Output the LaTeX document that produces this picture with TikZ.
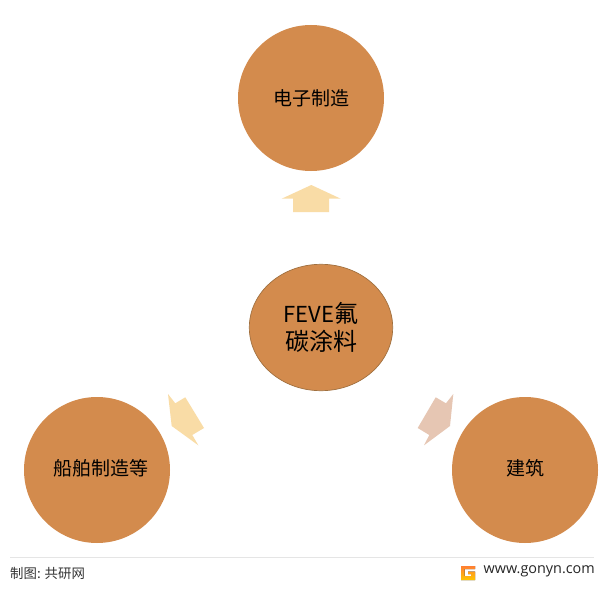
\documentclass[tikz,border=0pt]{standalone}
\usepackage{fontspec}
\setmainfont{Noto Sans CJK SC}
\newfontfamily\latinfont{Open Sans}
\definecolor{blob}{HTML}{D38B4D}
\definecolor{blobedge}{HTML}{A0703F}
\definecolor{arrowa}{HTML}{F9DCA6}
\definecolor{arrowb}{HTML}{E6C6B3}
\tikzset{
  x=1pt,y=-1pt,
  hub/.style={circle,fill=blob,minimum size=146pt,inner sep=0pt},
  hublabel/.style={inner sep=0pt,text=black,font=\fontsize{19}{22}\selectfont},
  flow/.style={draw=none},
}
\begin{document}
\begin{tikzpicture}
\useasboundingbox (0,0) rectangle (613,591);
\fill[white] (0,0) rectangle (613,591);
\node[hub] (top) at (311,98) {};
\node[hub] (left) at (97,470) {};
\node[hub] (right) at (525,470) {};
\node[hublabel] (toplabel) at (311,98.5) {电子制造};
\node[hublabel] (leftlabel) at (100.5,468.5) {船舶制造等};
\node[hublabel] (rightlabel) at (525,468.5) {建筑};
\draw[fill=blob,draw=blobedge,line width=0.7pt] (321,327.5) ellipse [x radius=71.7,y radius=63.2];
\node[align=center,inner sep=0pt,font=\fontsize{24}{28}\selectfont,text=black] (core) at (321,327) {{\fontsize{22}{28}\selectfont FEVE}氟\\碳涂料};
\fill[flow,arrowa] (311.3,185) -- (340.7,198.7) -- (329,198.7) -- (329,212) -- (293,212) -- (293,198.7) -- (281.7,198.7) -- cycle;
\fill[flow,arrowa] (168,394) -- (175.3,403.3) -- (185.3,397.3) -- (204,428) -- (192.3,435) -- (198.3,445.3) -- (171.7,426) -- cycle;
\fill[flow,arrowb] (453.3,394) -- (446,403.3) -- (435.7,397.3) -- (417.7,428) -- (429.3,435) -- (424,445.3) -- (450,426) -- cycle;
\draw[black!10,line width=0.8pt] (10,557) -- (594,557);
\node[anchor=west,inner sep=0pt,font=\fontsize{13.4}{15}\selectfont,text=black!80] (src) at (10,573) {制图: 共研网};
\node[anchor=east,inner sep=0pt,font=\latinfont\fontsize{14.4}{16}\selectfont,text=black!85] (web) at (595,571.5) {www.gonyn.com};
\fill[top color=orange!75!red!80,bottom color=orange!45!yellow] (461,566) -- (475,566) -- (475,569) -- (464.5,569) -- (464.5,576) -- (471,576) -- (471,574) -- (468,574) -- (468,571.5) -- (475,571.5) -- (475,580) -- (461,580) -- cycle;
\end{tikzpicture}
\end{document}
